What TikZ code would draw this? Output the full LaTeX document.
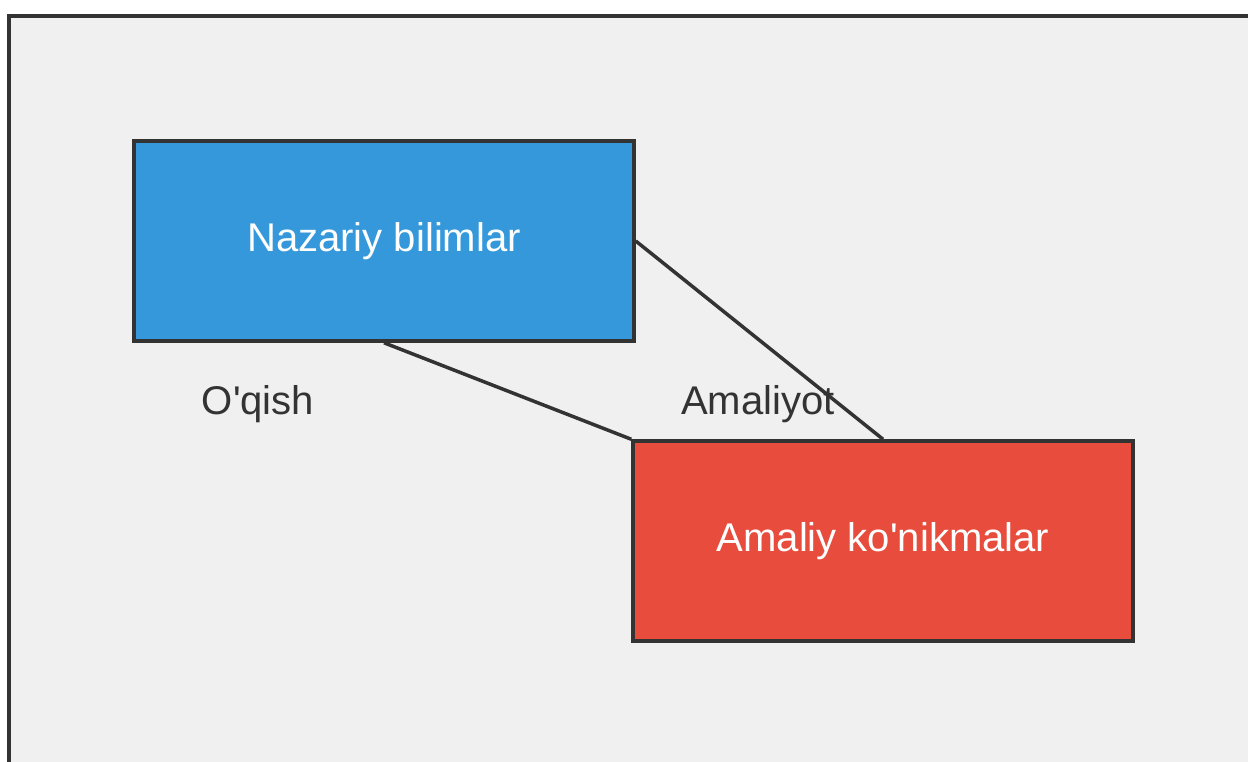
\documentclass[tikz,border=0pt]{standalone}
\usepackage{fontspec}
\setmainfont{Liberation Sans}
\usetikzlibrary{positioning}
\definecolor{bgGray}{HTML}{F0F0F0}
\definecolor{lineGray}{HTML}{333333}
\definecolor{nazBlue}{HTML}{3498DB}
\definecolor{amaRed}{HTML}{E74C3C}
\newcommand*{\pW}{12.48}
\newcommand*{\pH}{7.61}
\tikzset{
    skillbox/.style={draw=lineGray, line width=0.035cm, minimum width=5cm, minimum height=2cm,
        inner sep=0pt, text=white, font=\fontsize{11.4}{13}\selectfont},
    linklabel/.style={text=lineGray, inner sep=0pt, font=\fontsize{11.4}{13}\selectfont},
    link/.style={draw=lineGray, line width=0.035cm}
}
\begin{document}
\begin{tikzpicture}
    \useasboundingbox (0,0) rectangle (\pW,\pH);
    \fill [white] (0,0) rectangle (\pW,\pH);
    % panel
    \begin{scope}
        \clip (0,0) rectangle (\pW,\pH);
        \draw [fill=bgGray, draw=lineGray, line width=0.035cm] (0.09,7.45) rectangle (12.7,-0.3);
    \end{scope}
    % boxes
    \node [skillbox, fill=nazBlue] (nazariy) at (3.84,5.20) {Nazariy bilimlar};
    \node [skillbox, fill=amaRed] (amaliy) at (8.83,2.20) {Amaliy ko\textquotesingle nikmalar};
    % links
    \draw [link] (nazariy.south) -- (amaliy.north west);
    \draw [link] (nazariy.east) -- (amaliy.north);
    % labels
    \node [linklabel] (oqish) at (2.58,3.57) {O\textquotesingle qish};
    \node [linklabel] (amaliyot) at (7.58,3.57) {Amaliyot};
\end{tikzpicture}
\end{document}
